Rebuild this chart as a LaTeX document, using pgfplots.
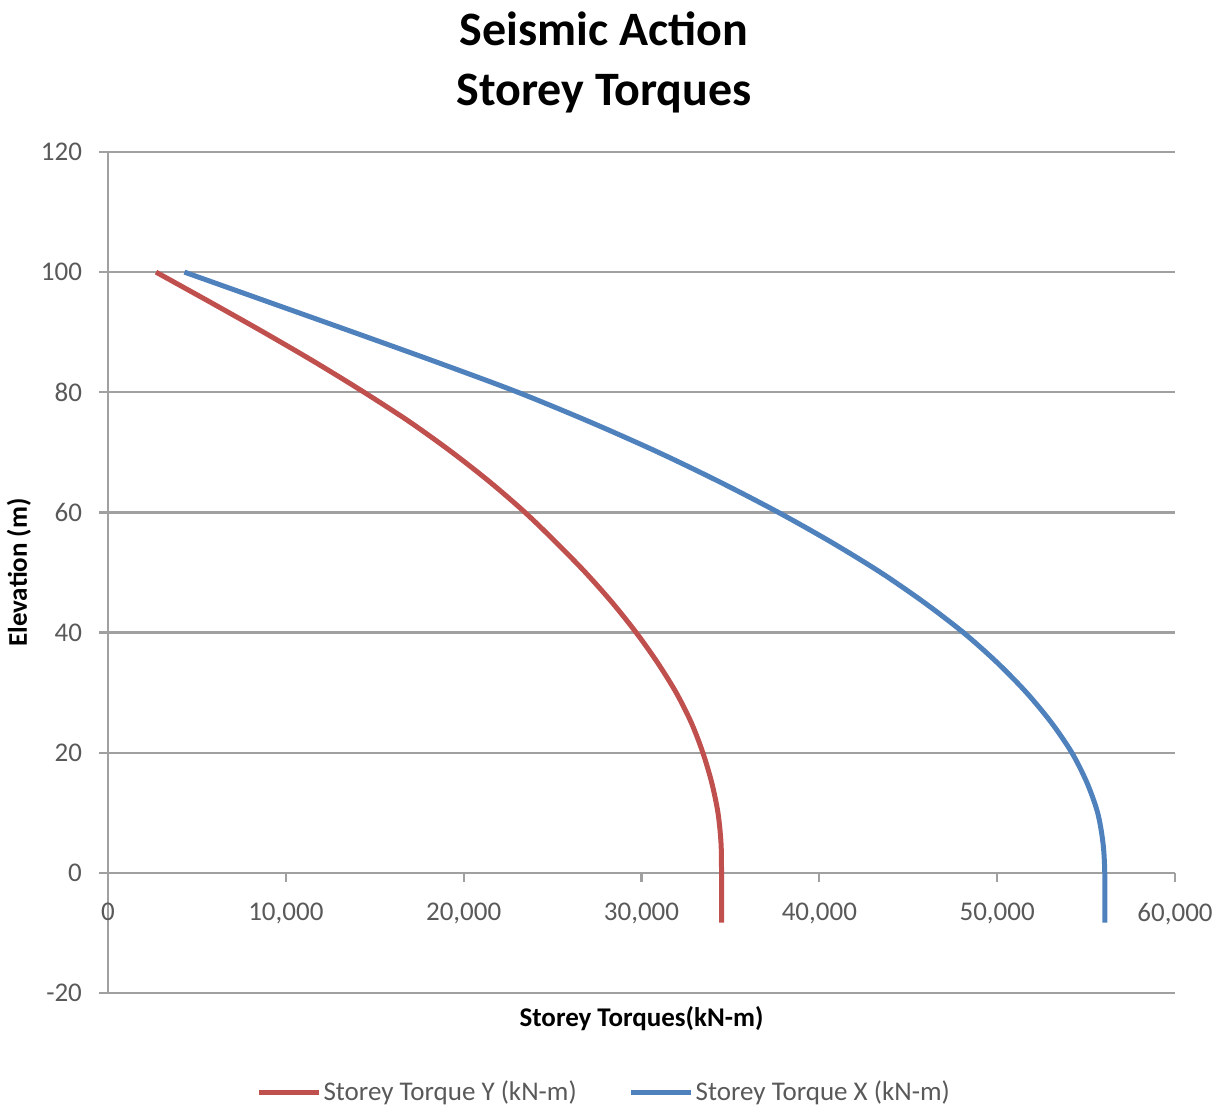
\documentclass[border=0pt]{standalone}
\usepackage{pgfplots}
\pgfplotsset{compat=1.18}
\usepackage{fontspec}
\setmainfont{Carlito}

\definecolor{torqueY}{HTML}{C0504D}
\definecolor{torqueX}{HTML}{4F81BD}
\definecolor{gridgray}{HTML}{A0A0A0}
\definecolor{labelgray}{HTML}{595959}

% Storey torques against elevation (torque in kN-m, elevation in m)
\pgfplotstableread{
elev   torque
100    2700
95     5750
90     8750
85     11650
80     14400
75     17000
70     19350
65     21500
60     23450
55     25200
50     26850
45     28350
40     29700
35     30900
30     31950
25     32800
20     33450
15     33950
10     34300
5      34470
0      34500
-8.3   34500
}\torqueY

\pgfplotstableread{
elev   torque
100    4300
95     9050
90     13800
85     18500
80     23050
75     27150
70     30950
65     34450
60     37700
55     40700
50     43450
45     45900
40     48100
35     50000
30     51650
25     53050
20     54200
15     55050
10     55650
5      55950
0      56050
-8.3   56050
}\torqueX

\begin{document}
\begin{tikzpicture}
\begin{axis}[
  name=main,
  scale only axis,
  width=533.5pt, height=420.5pt,
  xmin=0, xmax=60000, ymin=-20, ymax=120,
  clip=false,
  axis x line=middle, axis y line=left,
  x axis line style={-, gridgray, line width=1.1pt},
  y axis line style={-, gridgray, line width=1.1pt},
  hide obscured x ticks=false, hide obscured y ticks=false,
  xtick={0,10000,...,60000},
  ytick={-20,0,...,120},
  scaled x ticks=false,
  tick align=outside,
  major tick length=4.5pt,
  tick style={gridgray, line width=1.1pt},
  ymajorgrids,
  grid style={gridgray, line width=1.1pt},
  /pgf/number format/assume math mode=true,
  /pgf/number format/1000 sep={,},
  xticklabel style={font=\fontsize{13.5}{16}\selectfont, text=labelgray, anchor=north, yshift=-7pt},
  yticklabel style={font=\fontsize{13.5}{16}\selectfont, text=labelgray, anchor=east, xshift=-5pt},
  legend style={at={(axis description cs:0.465,0)}, anchor=center, yshift=-49.5pt,
    draw=none, fill=none, legend columns=2,
    font=\fontsize{13.5}{16}\selectfont, text=labelgray,
    nodes={inner xsep=1pt},
    /tikz/every even column/.append style={column sep=25pt}},
  legend cell align=left,
  legend image code/.code={\draw[#1] (0pt,0pt) -- (30pt,0pt);},
]
\addplot[torqueY, line width=2.5pt, smooth] table[x=torque, y=elev] {\torqueY};
\addlegendentry{Storey Torque Y (kN-m)}
\addplot[torqueX, line width=2.5pt, smooth] table[x=torque, y=elev] {\torqueX};
\addlegendentry{Storey Torque X (kN-m)}

\node[align=center, font=\bfseries\fontsize{24}{30}\selectfont, anchor=south, inner sep=0pt]
  at ([yshift=19.5pt]rel axis cs:0.465,1) {Seismic Action\\Storey Torques};
\node[font=\bfseries\fontsize{13.5}{16}\selectfont, anchor=base, inner sep=0pt]
  at ([yshift=-16.5pt]rel axis cs:0.5,0) {Storey Torques(kN-m)};
\node[font=\bfseries\fontsize{13.5}{16}\selectfont, anchor=base, rotate=90, inner sep=0pt]
  at ([xshift=-40.5pt]rel axis cs:0,0.5) {Elevation (m)};
\end{axis}
\pgfresetboundingbox
\path ([shift={(-54pt,-59.5pt)}]main.south west) rectangle ([shift={(19pt,76pt)}]main.north east);
\end{tikzpicture}
\end{document}
